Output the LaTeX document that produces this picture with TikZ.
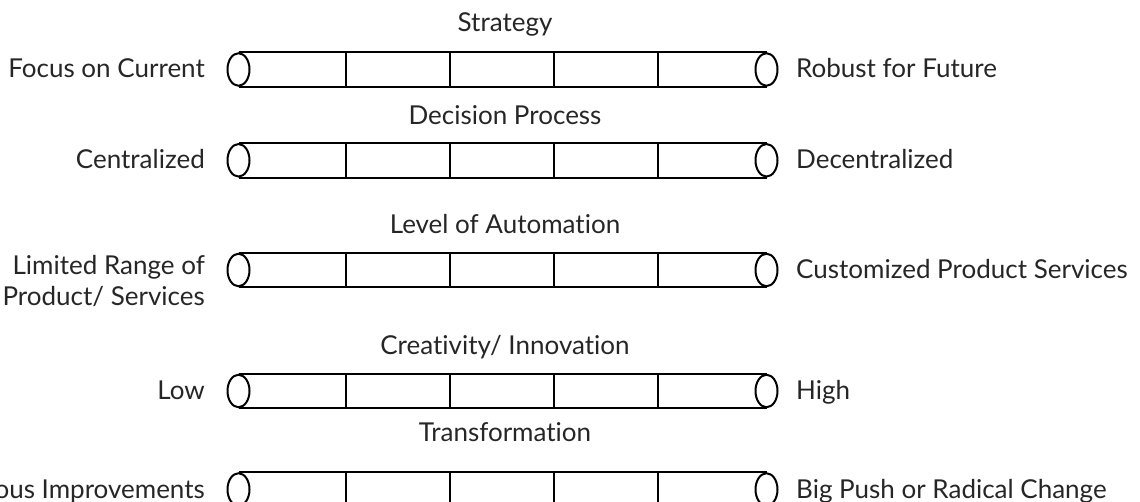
\documentclass[tikz,border=0pt]{standalone}
\usepackage{fontspec}
\setmainfont[Ligatures=NoCommon]{Lato}
\usetikzlibrary{shapes.geometric}
\tikzset{
  endcap/.style={ellipse,draw,line width=2pt,minimum width=22pt,minimum height=32.5pt,inner sep=0pt},
  tube/.style={line width=2pt},
  scaletext/.style={font=\fontsize{26}{31}\selectfont,text=black!85,inner sep=0pt},
  lefttext/.style={scaletext,anchor=base east,align=right},
  righttext/.style={scaletext,anchor=base west},
  titletext/.style={scaletext,anchor=base}
}
\begin{document}
\begin{tikzpicture}[x=1pt,y=-1pt]
  \useasboundingbox (0,0) rectangle (1140,502);
  \clip (0,0) rectangle (1140,502);

  \foreach \c/\tb/\lb/\ttl/\lft/\rgt [count=\i] in {
      69.5/31.7/78/{Strategy}/{Focus on Current}/{Robust for Future},
      160.3/125/169/{Decision Process}/{Centralized}/{Decentralized},
      270/233.3/306/{Level of Automation}/{Limited Range of\\Product/ Services}/{Customized Product Services},
      391/355/399.5/{Creativity/ Innovation}/{Low}/{High},
      489.5/441.7/498/{Transformation}/{Continuous Improvements}/{Big Push or Radical Change}}
  {
    % scale bar
    \node[endcap] (l\i) at (238.5,\c) {};
    \node[endcap] (r\i) at (766.5,\c) {};
    \draw[tube] (l\i.north) -- (r\i.north);
    \draw[tube] (l\i.south) -- (r\i.south);
    \foreach \x in {346,450,554,658}
      \draw[tube] (\x,{\c-16.25}) -- (\x,{\c+16.25});

    % labels
    \node[titletext] (t\i) at (505,\tb) {\ttl};
    \node[lefttext] (a\i) at (205,\lb) {\lft};
    \node[righttext] (b\i) at (796,{\c+8.5}) {\rgt};
  }
\end{tikzpicture}
\end{document}
